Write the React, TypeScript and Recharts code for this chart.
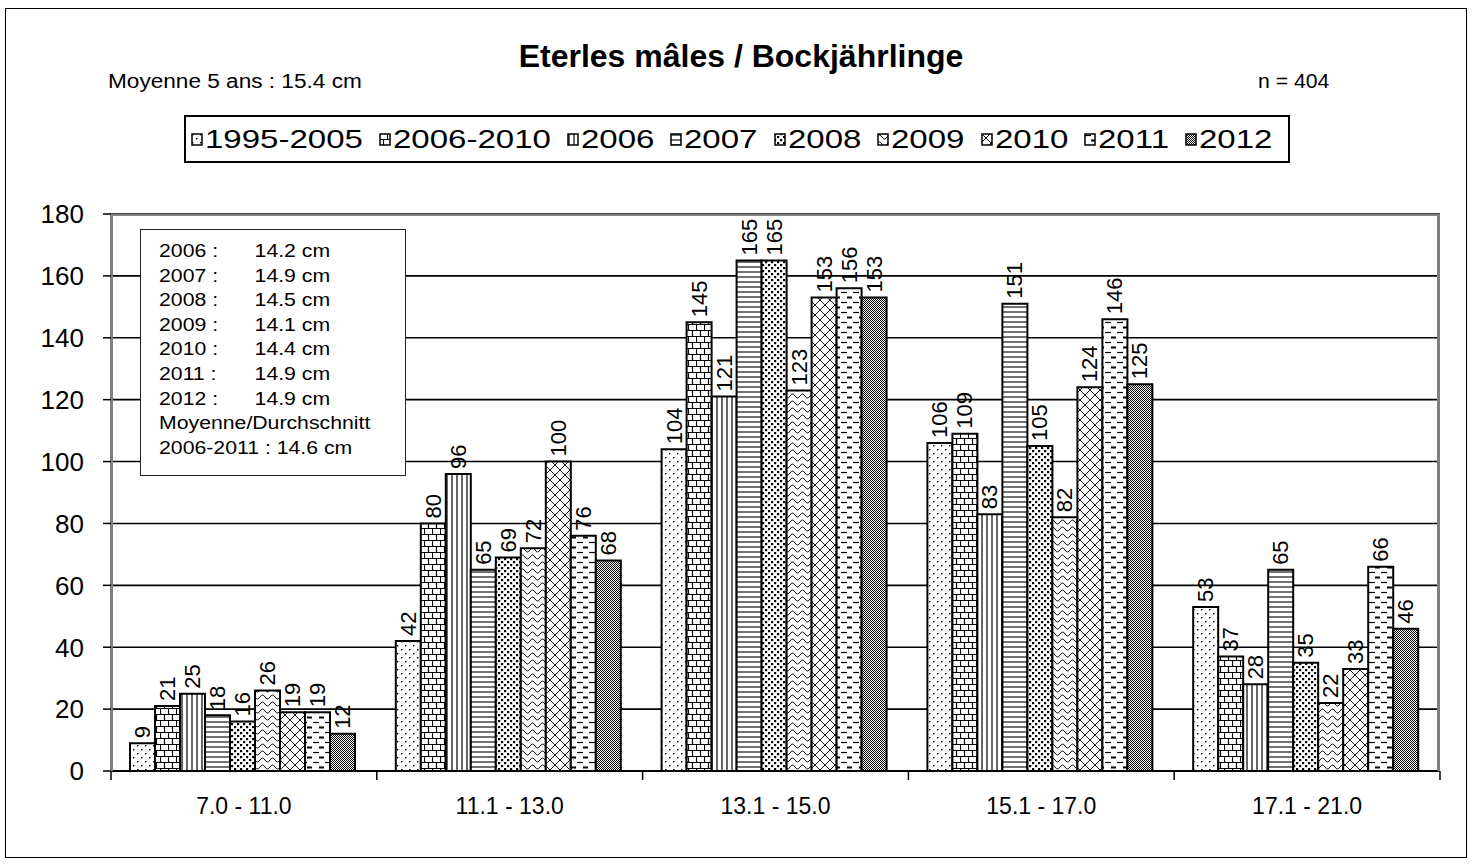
import React from "react";
import { BarChart, Bar, XAxis, YAxis, CartesianGrid, LabelList } from "recharts";

const categories = ["7.0 - 11.0", "11.1 - 13.0", "13.1 - 15.0", "15.1 - 17.0", "17.1 - 21.0"];
const seriesNames = ["1995-2005", "2006-2010", "2006", "2007", "2008", "2009", "2010", "2011", "2012"];

const s1995_2005 = [9, 42, 104, 106, 53];
const s2006_2010 = [21, 80, 145, 109, 37];
const s2006 = [25, 96, 121, 83, 28];
const s2007 = [18, 65, 165, 151, 65];
const s2008 = [16, 69, 165, 105, 35];
const s2009 = [26, 72, 123, 82, 22];
const s2010 = [19, 100, 153, 124, 33];
const s2011 = [19, 76, 156, 146, 66];
const s2012 = [12, 68, 153, 125, 46];

const yTicks = [0, 20, 40, 60, 80, 100, 120, 140, 160, 180];

const insetLines = [
  ["2006 :", "14.2 cm"],
  ["2007 :", "14.9 cm"],
  ["2008 :", "14.5 cm"],
  ["2009 :", "14.1 cm"],
  ["2010 :", "14.4 cm"],
  ["2011 :", "14.9 cm"],
  ["2012 :", "14.9 cm"],
];

const allSeries = [s1995_2005, s2006_2010, s2006, s2007, s2008, s2009, s2010, s2011, s2012];
const keys = seriesNames.map((_, i) => "s" + i);
const patternIds = ["pDots", "pBrick", "pVert", "pHoriz", "pDense", "pWave", "pCross", "pDash", "pCheck"];

const data = categories.map((c, ci) => {
  const row: Record<string, any> = { cat: c };
  allSeries.forEach((s, si) => (row[keys[si]] = s[ci]));
  return row;
});

const FONT = "'Liberation Sans', Arial, sans-serif";
const BAND = (1440 - 111) / categories.length;

// the source image is stretched horizontally, so legend text gets widened
const LEGEND_FONT = 26;
const LEGEND_STRETCH = 1.27;
let measureCtx: CanvasRenderingContext2D | null = null;
function textWidth(t: string, size: number) {
  if (!measureCtx) measureCtx = document.createElement("canvas").getContext("2d");
  if (!measureCtx) return t.length * size * 0.556;
  measureCtx.font = `${size}px 'Liberation Sans', Arial, sans-serif`;
  return measureCtx.measureText(t).width;
}

function Patterns() {
  return (
    <svg width="0" height="0" style={{ position: "absolute" }}>
      <defs>
        <pattern id="pDots" width="8" height="8" patternUnits="userSpaceOnUse">
          <rect width="8" height="8" fill="#fff" />
          <rect x="1" y="1" width="1.4" height="1.4" fill="#000" />
          <rect x="5" y="5" width="1.4" height="1.4" fill="#000" />
        </pattern>
        <pattern id="pBrick" width="8" height="12" patternUnits="userSpaceOnUse">
          <rect width="8" height="12" fill="#fff" />
          <path d="M0 0.5H8M0 6.5H8M0.5 0V6.5M4.5 6.5V12" stroke="#000" strokeWidth="1.2" />
        </pattern>
        <pattern id="pVert" width="5" height="5" patternUnits="userSpaceOnUse">
          <rect width="5" height="5" fill="#fff" />
          <path d="M2 0V5" stroke="#000" strokeWidth="1.2" />
        </pattern>
        <pattern id="pHoriz" width="5" height="5" patternUnits="userSpaceOnUse">
          <rect width="5" height="5" fill="#fff" />
          <path d="M0 2H5" stroke="#000" strokeWidth="1.1" />
        </pattern>
        <pattern id="pDense" width="6" height="6" patternUnits="userSpaceOnUse">
          <rect width="6" height="6" fill="#fff" />
          <rect x="0" y="0" width="2.2" height="2.2" fill="#000" />
          <rect x="3" y="3" width="2.2" height="2.2" fill="#000" />
        </pattern>
        <pattern id="pWave" width="10" height="7" patternUnits="userSpaceOnUse">
          <rect width="10" height="7" fill="#fff" />
          <path d="M0 4Q2.5 0 5 4T10 4" fill="none" stroke="#000" strokeWidth="1" />
        </pattern>
        <pattern id="pCross" width="10" height="10" patternUnits="userSpaceOnUse">
          <rect width="10" height="10" fill="#fff" />
          <path d="M0 0L10 10M10 0L0 10" stroke="#000" strokeWidth="0.9" />
        </pattern>
        <pattern id="pDash" width="12" height="10" patternUnits="userSpaceOnUse">
          <rect width="12" height="10" fill="#fff" />
          <path d="M1 2.5H7" stroke="#000" strokeWidth="1.2" />
          <path d="M7 7.5H12" stroke="#000" strokeWidth="2" />
        </pattern>
        <pattern id="pCheck" width="2" height="2" patternUnits="userSpaceOnUse">
          <rect width="2" height="2" fill="#fff" />
          <rect x="0" y="0" width="1" height="1" fill="#000" />
          <rect x="1" y="1" width="1" height="1" fill="#000" />
        </pattern>
      </defs>
    </svg>
  );
}

const renderLabel = (props: any) => {
  const { x, y, width, value } = props;
  const cx = x + width / 2;
  const ty = y - 5;
  return (
    <text
      x={cx}
      y={ty}
      transform={`rotate(-90, ${cx}, ${ty})`}
      textAnchor="start"
      dominantBaseline="central"
      fontSize={22}
      fontFamily={FONT}
      fill="#000"
    >
      {value}
    </text>
  );
};

const renderXTick = (props: any) => {
  const { x, y, payload, index } = props;
  const left = x - BAND / 2;
  return (
    <g>
      <line x1={left} y1={y - 8} x2={left} y2={y + 1} stroke="#000" strokeWidth={1.5} />
      {index === categories.length - 1 && (
        <line x1={left + BAND} y1={y - 8} x2={left + BAND} y2={y + 1} stroke="#000" strokeWidth={1.5} />
      )}
      <text x={x} y={y + 35} textAnchor="middle" fontSize={23} fontFamily={FONT} fill="#000">
        {payload.value}
      </text>
    </g>
  );
};

const renderYTick = (props: any) => {
  const { y, payload } = props;
  return (
    <text x={84} y={y} dy="0.36em" textAnchor="end" fontSize={26} fontFamily={FONT} fill="#000">
      {payload.value}
    </text>
  );
};

export default function App() {
  return (
    <div style={{ position: "absolute", left: 0, top: 0, width: 1473, height: 864, background: "#fff", fontFamily: FONT }}>
      <Patterns />
      <div style={{ position: "absolute", left: 5, top: 8, width: 1462, height: 850, border: "1px solid #000", boxSizing: "border-box" }} />
      <div style={{ position: "absolute", left: 0, width: 1482, top: 38, textAlign: "center", fontWeight: "bold", fontSize: 32 }}>
        Eterles mâles / Bockjährlinge
      </div>
      <div style={{ position: "absolute", left: 108, top: 70, fontSize: 20, transform: "scaleX(1.13)", transformOrigin: "left" }}>
        Moyenne 5 ans : 15.4 cm
      </div>
      <div style={{ position: "absolute", right: 1473 - 1329, top: 70, fontSize: 20, transform: "scaleX(1.06)", transformOrigin: "right" }}>
        n = 404
      </div>

      <div
        style={{
          position: "absolute",
          left: 184,
          top: 115,
          width: 1106,
          height: 48,
          border: "2px solid #000",
          boxSizing: "border-box",
          display: "flex",
          alignItems: "center",
          paddingLeft: 5,
          gap: 16,
          fontSize: LEGEND_FONT,
          whiteSpace: "nowrap",
        }}
      >
        {seriesNames.map((n, i) => (
          <div key={n} style={{ display: "flex", alignItems: "center" }}>
            <svg width="12" height="13" style={{ marginRight: 2 }}>
              <rect x="1" y="1" width="10" height="11" fill={`url(#${patternIds[i]})`} stroke="#000" strokeWidth="1.5" />
            </svg>
            <span style={{ display: "inline-block", width: textWidth(n, LEGEND_FONT) * LEGEND_STRETCH }}>
              <span style={{ display: "inline-block", transform: `scaleX(${LEGEND_STRETCH})`, transformOrigin: "left" }}>{n}</span>
            </span>
          </div>
        ))}
      </div>

      <div style={{ position: "absolute", left: 0, top: 0 }}>
        <BarChart
          width={1473}
          height={864}
          data={data}
          margin={{ top: 214, right: 33, left: 51, bottom: 63 }}
          barCategoryGap={19}
          barGap={0}
        >
          <CartesianGrid vertical={false} stroke="#000" strokeWidth={1.6} />
          <XAxis dataKey="cat" axisLine={{ stroke: "#000", strokeWidth: 2 }} tickLine={false} tick={renderXTick} interval={0} height={30} />
          <YAxis
            domain={[0, 180]}
            ticks={yTicks}
            width={60}
            interval={0}
            axisLine={{ stroke: "#808080", strokeWidth: 2 }}
            tickLine={{ stroke: "#000", strokeWidth: 1.5 }}
            tickSize={8}
            tick={renderYTick}
          />
          {keys.map((k, i) => (
            <Bar key={k} dataKey={k} name={seriesNames[i]} fill={`url(#${patternIds[i]})`} stroke="#000" strokeWidth={2} isAnimationActive={false}>
              <LabelList dataKey={k} content={renderLabel} />
            </Bar>
          ))}
        </BarChart>
      </div>

      <div style={{ position: "absolute", left: 111, top: 214, width: 1329, height: 557, borderTop: "2px solid #808080", borderLeft: "2px solid #808080", borderRight: "3px solid #808080", boxSizing: "border-box", pointerEvents: "none" }} />

      <div
        style={{
          position: "absolute",
          left: 140,
          top: 229,
          width: 266,
          height: 247,
          border: "1.5px solid #222",
          background: "#fff",
          boxSizing: "border-box",
        }}
      >
        <div
          style={{
            position: "absolute",
            left: 18,
            top: 9,
            fontSize: 18,
            lineHeight: "24.6px",
            whiteSpace: "nowrap",
            transform: "scaleX(1.18)",
            transformOrigin: "left",
          }}
        >
          {insetLines.map(([a, b]) => (
            <div key={a} style={{ display: "flex" }}>
              <span style={{ width: 81 }}>{a}</span>
              <span>{b}</span>
            </div>
          ))}
          <div>Moyenne/Durchschnitt</div>
          <div>2006-2011 : 14.6 cm</div>
        </div>
      </div>
    </div>
  );
}
